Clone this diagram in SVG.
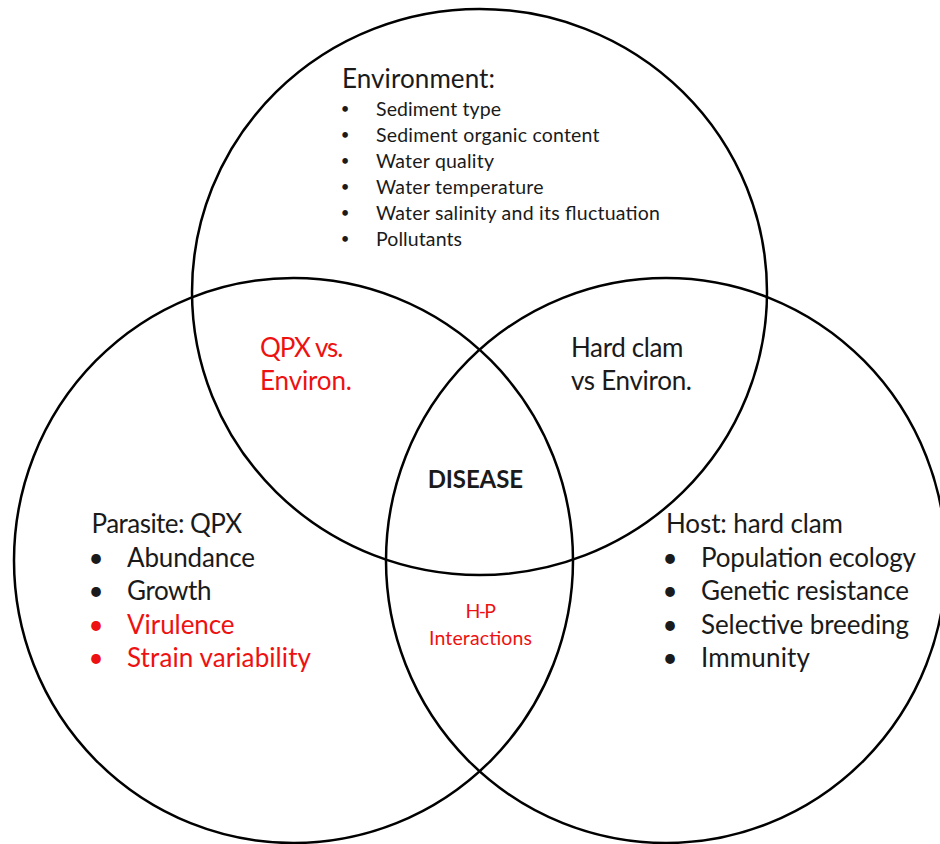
<svg xmlns="http://www.w3.org/2000/svg" width="940" height="844" viewBox="0 0 940 844">
<style>
.ring{fill:none;stroke:#000;stroke-width:2.5}
text{font-family:Lato,"Liberation Sans",sans-serif;fill:#1a1a1a}
.big{font-size:26px}
.sm{font-size:19.5px}
.b{font-weight:bold;font-size:24px}
.red{fill:#ee1111}
.bul{text-anchor:middle}
.sbul{text-anchor:middle;font-size:15px}
</style>
<rect x="0" y="0" width="940" height="844" fill="#fff"/>
<g id="environment">
<ellipse class="ring" cx="479.5" cy="292" rx="287.5" ry="283"/>
<text class="big" x="342" y="88" textLength="153">Environment:</text>
<g class="sm">
<text class="sbul" x="345" y="114">•</text><text x="376" y="115.5" textLength="125">Sediment type</text>
<text class="sbul" x="345" y="140">•</text><text x="376" y="141.5" textLength="223.5">Sediment organic content</text>
<text class="sbul" x="345" y="166">•</text><text x="376" y="167.5" textLength="118">Water quality</text>
<text class="sbul" x="345" y="192">•</text><text x="376" y="193.5" textLength="167.5">Water temperature</text>
<text class="sbul" x="345" y="218">•</text><text x="376" y="219.5" textLength="284">Water salinity and its fluctuation</text>
<text class="sbul" x="345" y="244">•</text><text x="376" y="245.5" textLength="86">Pollutants</text>
</g>
</g>
<g id="parasite">
<ellipse class="ring" cx="293.5" cy="560.5" rx="279.5" ry="282.5"/>
<g class="big">
<text x="91.5" y="533" textLength="150.5">Parasite: QPX</text>
<text class="bul" x="96" y="567">•</text><text x="127" y="567" textLength="128">Abundance</text>
<text class="bul" x="96" y="600">•</text><text x="127" y="600" textLength="84.5">Growth</text>
<text class="bul red" x="96" y="633.5">•</text><text class="red" x="127" y="633.5" textLength="107.6">Virulence</text>
<text class="bul red" x="96" y="667">•</text><text class="red" x="127" y="667" textLength="184">Strain variability</text>
</g>
</g>
<g id="host">
<ellipse class="ring" cx="666" cy="560.5" rx="280" ry="282.5"/>
<g class="big">
<text x="666" y="533" textLength="177">Host: hard clam</text>
<text class="bul" x="670" y="567">•</text><text x="701" y="567" textLength="215">Population ecology</text>
<text class="bul" x="670" y="600">•</text><text x="701" y="600" textLength="208">Genetic resistance</text>
<text class="bul" x="670" y="633.5">•</text><text x="701" y="633.5" textLength="208">Selective breeding</text>
<text class="bul" x="670" y="667">•</text><text x="701" y="667" textLength="109">Immunity</text>
</g>
</g>
<g id="qpx-environ">
<text class="big red" x="260" y="357" textLength="83.5">QPX vs.</text>
<text class="big red" x="260" y="390" textLength="92">Environ.</text>
</g>
<g id="clam-environ">
<text class="big" x="571" y="357" textLength="112.5">Hard clam</text>
<text class="big" x="571" y="390" textLength="121">vs Environ.</text>
</g>
<g id="disease">
<text class="b" x="427.7" y="487.6" textLength="95.3">DISEASE</text>
</g>
<g id="hp-interactions">
<text class="sm red" x="465.5" y="618" textLength="30.5">H-P</text>
<text class="sm red" x="429" y="644.5" textLength="103">Interactions</text>
</g>
</svg>
